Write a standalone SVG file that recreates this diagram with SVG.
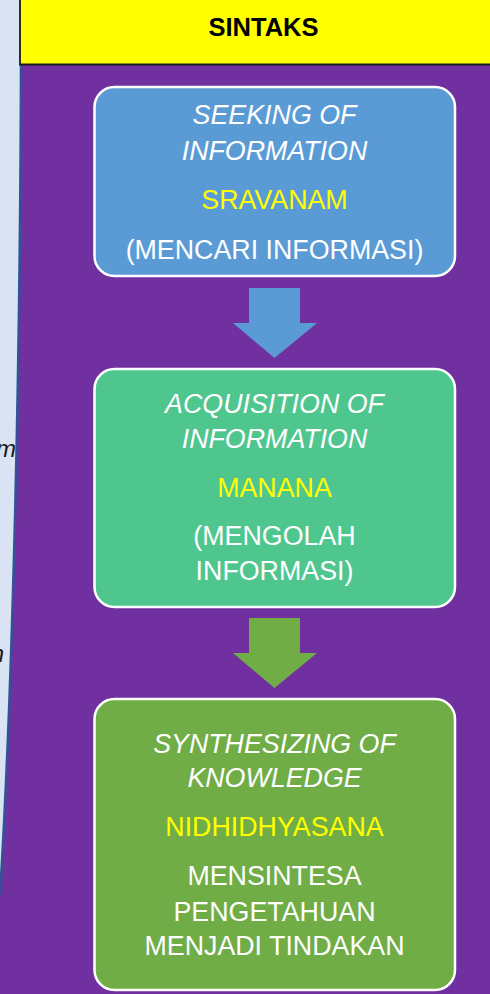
<svg xmlns="http://www.w3.org/2000/svg" width="490" height="994" viewBox="0 0 490 994">
<style>
.box{stroke:#ffffff;stroke-width:2.5}
.t{font-family:"Liberation Sans",Arial,sans-serif;font-size:26.8px;fill:#ffffff;text-anchor:middle}
.i{font-style:italic}
.y{fill:#ffff00}
.side{font-family:"Liberation Sans",Arial,sans-serif;font-size:24px;font-style:italic;fill:#1a1a1a;text-anchor:end}
</style>
<rect x="0" y="0" width="490" height="994" fill="#7030a0"/>
<g id="side-panel">
<path d="M0,0 L21,0 L21,64 C20,400 12,700 0,895 Z" fill="#dae3f3"/>
<path d="M21,64 C20,400 12,700 0,895" fill="none" stroke="#2f5597" stroke-width="2.5"/>
<text class="side" x="16" y="457">m</text>
<text class="side" x="4" y="662">n</text>
</g>
<g id="header">
<rect x="20" y="0" width="470" height="64" fill="#ffff00"/>
<path d="M20,0 V64.5 H490" fill="none" stroke="#1a1a1a" stroke-width="1.8"/>
<text x="263.5" y="36" font-family="'Liberation Sans',Arial,sans-serif" font-size="25.5" font-weight="bold" text-anchor="middle" fill="#000000">SINTAKS</text>
</g>
<g id="connectors">
<polygon points="249,288 300,288 300,323 317,323 274.5,358 233,323 249,323" fill="#5b9bd5"/>
<polygon points="249,618 300,618 300,653 317,653 274.5,688 233,653 249,653" fill="#70ad47"/>
</g>
<g id="node-seeking">
<rect class="box" x="94.5" y="87" width="360.5" height="189" rx="20" fill="#5b9bd5"/>
<text class="t i" x="274.5" y="124">SEEKING OF</text>
<text class="t i" x="274.5" y="160">INFORMATION</text>
<text class="t y" x="274.5" y="209">SRAVANAM</text>
<text class="t" x="274.5" y="259">(MENCARI INFORMASI)</text>
</g>
<g id="node-acquisition">
<rect class="box" x="94.5" y="369" width="360.5" height="238" rx="20" fill="#50c68f"/>
<text class="t i" x="274.5" y="413">ACQUISITION OF</text>
<text class="t i" x="274.5" y="448">INFORMATION</text>
<text class="t y" x="274.5" y="497">MANANA</text>
<text class="t" x="274.5" y="545">(MENGOLAH</text>
<text class="t" x="274.5" y="580">INFORMASI)</text>
</g>
<g id="node-synthesizing">
<rect class="box" x="94.5" y="699" width="360.5" height="291" rx="20" fill="#70ad47"/>
<text class="t i" x="274.5" y="753">SYNTHESIZING OF</text>
<text class="t i" x="274.5" y="787">KNOWLEDGE</text>
<text class="t y" x="274.5" y="836">NIDHIDHYASANA</text>
<text class="t" x="274.5" y="885">MENSINTESA</text>
<text class="t" x="274.5" y="921">PENGETAHUAN</text>
<text class="t" x="274.5" y="955">MENJADI TINDAKAN</text>
</g>
</svg>
